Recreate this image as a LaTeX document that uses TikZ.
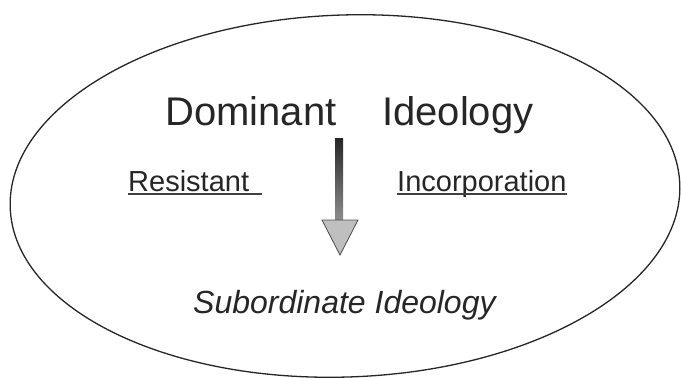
\documentclass[tikz,border=0pt]{standalone}
\usepackage{fontspec}
\setmainfont{Liberation Sans}
\usetikzlibrary{calc}
\tikzset{
  label text/.style={anchor=base west, inner sep=0pt, text=black!85},
  underl/.style={line width=1.3pt, black!75},
}
\begin{document}
\begin{tikzpicture}[x=1pt,y=-1pt]
\useasboundingbox (0,0) rectangle (681,378);
% outer ellipse
\draw [line width=1.3pt, black!85, rotate around={2:(345,196)}] (345,196) ellipse [x radius=335, y radius=181];
% top line
\node (dominant) [label text, font=\fontsize{40}{48}\selectfont] at (165,125) {Dominant};
\node (ideology) [label text, font=\fontsize{40}{48}\selectfont] at (382,125) {Ideology};
% middle line
\node (resistant) [label text, font=\fontsize{29}{35}\selectfont] at (128,191) {Resistant};
\draw [underl] ([yshift=-3pt]resistant.base west) -- ++(134,0);
\node (incorp) [label text, font=\fontsize{29}{35}\selectfont] at (397,191) {Incorporation};
\draw [underl] ([yshift=-3pt]incorp.base west) -- ([yshift=-3pt]incorp.base east);
% bottom line
\node (subord) [label text, font=\fontsize{32}{38}\selectfont\itshape] at (193,313) {Subordinate Ideology};
% arrow
\coordinate (arrowtop) at (339,138);
\coordinate (arrowtip) at (340,255);
\shade [top color=black!85, bottom color=black!45] ($(arrowtop)+(-4,0)$) rectangle ($(arrowtop)+(4,82)$);
\draw [fill=black!25, draw=black!70, line width=0.8pt] ($(arrowtip)+(-18,-35)$) -- ($(arrowtip)+(18,-35)$) -- (arrowtip) -- cycle;
\end{tikzpicture}
\end{document}
